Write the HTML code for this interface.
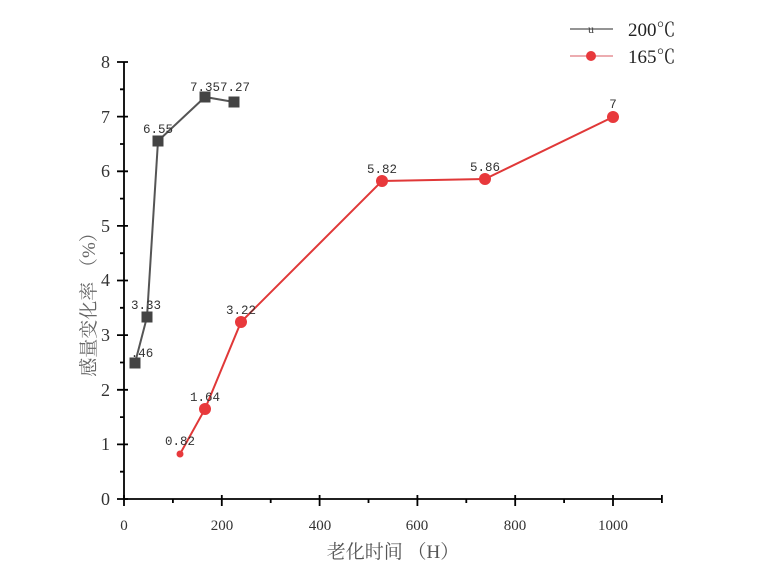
<!DOCTYPE html>
<html><head><style>body{margin:0;background:#fff}</style></head><body>
<svg width="775" height="580" xmlns="http://www.w3.org/2000/svg" font-family="Liberation Serif, Noto Serif CJK SC, serif">
<g stroke="#000" stroke-width="1.8" fill="none">
<line x1="124" y1="62" x2="124" y2="499"/>
<line x1="124" y1="499" x2="662" y2="499"/>
<path d="M117 62H128M117 116.6H128M117 171.3H128M117 225.9H128M117 280.5H128M117 335.1H128M117 389.8H128M117 444.4H128M117 499H128"/>
<path d="M120 89.3H124M120 144H124M120 198.6H124M120 253.2H124M120 307.8H124M120 362.5H124M120 417.1H124M120 471.7H124"/>
<path d="M124 495V506M221.8 495V506M319.6 495V506M417.4 495V506M515.2 495V506M613 495V506"/>
<path d="M172.9 499V503M270.7 499V503M368.5 499V503M466.3 499V503M564.1 499V503M661.9 495V503"/>
</g>
<g font-size="18" fill="#333" text-anchor="end">
<text x="110" y="68">8</text><text x="110" y="123">7</text><text x="110" y="177">6</text><text x="110" y="232">5</text><text x="110" y="286">4</text><text x="110" y="341">3</text><text x="110" y="396">2</text><text x="110" y="450">1</text><text x="110" y="505">0</text>
</g>
<g font-size="15" fill="#333" text-anchor="middle">
<text x="124" y="530">0</text><text x="222" y="530">200</text><text x="320" y="530">400</text><text x="417" y="530">600</text><text x="515" y="530">800</text><text x="613" y="530">1000</text>
</g>
<text x="393" y="558" font-size="19" fill="#555" text-anchor="middle">老化时间 （H）</text>
<text transform="translate(95,300) rotate(-90)" font-size="19" fill="#666" text-anchor="middle">感量变化率 （%）</text>
<polyline points="135,363 147,317 158,141 205,97 234,102" fill="none" stroke="#555" stroke-width="2"/>
<g fill="#444">
<rect x="129.5" y="357.5" width="11" height="11"/><rect x="141.5" y="311.5" width="11" height="11"/><rect x="152.5" y="135.5" width="11" height="11"/><rect x="199.5" y="91.5" width="11" height="11"/><rect x="228.5" y="96.5" width="11" height="11"/>
</g>
<polyline points="180,454 205,409 241,322 382,181 485,179 613,117" fill="none" stroke="#e03838" stroke-width="2"/>
<g fill="#e8393c">
<circle cx="180" cy="454" r="3.5"/><circle cx="205" cy="409" r="6"/><circle cx="241" cy="322" r="6"/><circle cx="382" cy="181" r="6"/><circle cx="485" cy="179" r="6"/><circle cx="613" cy="117" r="6"/>
</g>
<g font-family="Liberation Mono, monospace" font-size="12.5" fill="#333" text-anchor="middle">
<text x="142" y="357">.46</text><text x="146" y="309">3.33</text><text x="158" y="133">6.55</text><text x="220" y="91">7.357.27</text>
<text x="180" y="445">0.82</text><text x="205" y="401">1.64</text><text x="241" y="314">3.22</text><text x="382" y="173">5.82</text><text x="485" y="171">5.86</text><text x="613" y="108">7</text>
</g>
<line x1="570" y1="29" x2="613" y2="29" stroke="#555" stroke-width="1.2"/>
<text x="591" y="33" font-size="12" fill="#444" text-anchor="middle">u</text>
<text x="628" y="36" font-size="19" fill="#222">200℃</text>
<line x1="570" y1="56" x2="613" y2="56" stroke="#e07a80" stroke-width="1.2"/>
<circle cx="591" cy="56" r="5" fill="#e8393c"/>
<text x="628" y="63" font-size="19" fill="#222">165℃</text>
</svg>
</body></html>
